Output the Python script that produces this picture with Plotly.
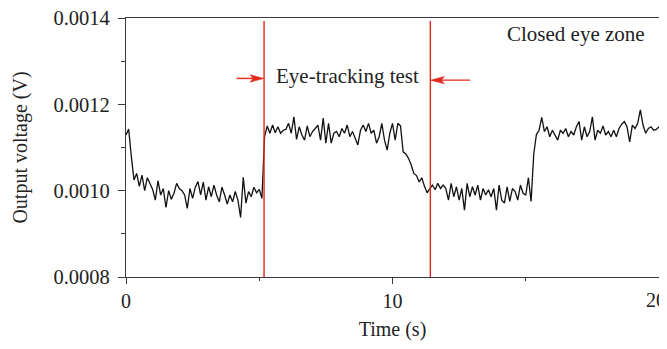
import numpy as np
import plotly.graph_objects as go

# ---- data ----
time_s = np.round(np.arange(0, 201) * 0.1, 1)  # sampling grid 0..20 s

voltage_V = [
    0.001129, 0.001143, 0.001079, 0.001025, 0.001040, 0.001010, 0.001036, 0.001000, 0.001030, 0.001015,
    0.001003, 0.000978, 0.001023, 0.000990, 0.001005, 0.000961, 0.001000, 0.000980, 0.000994, 0.001017,
    0.001005, 0.001000, 0.000990, 0.000959, 0.001005, 0.000982, 0.001008, 0.001021, 0.000990, 0.001020,
    0.000978, 0.001009, 0.000986, 0.001013, 0.000990, 0.000974, 0.001008, 0.000990, 0.000969, 0.000990,
    0.000974, 0.000998, 0.000978, 0.000938, 0.001031, 0.000971, 0.000998, 0.000986, 0.001008, 0.000995,
    0.001003, 0.000982, 0.001125, 0.001150, 0.001133, 0.001152, 0.001134, 0.001148, 0.001133, 0.001140,
    0.001142, 0.001156, 0.001133, 0.001171, 0.001119, 0.001148, 0.001129, 0.001117, 0.001150, 0.001125,
    0.001137, 0.001144, 0.001152, 0.001117, 0.001168, 0.001110, 0.001156, 0.001110, 0.001133, 0.001137,
    0.001125, 0.001144, 0.001133, 0.001152, 0.001125, 0.001137, 0.001121, 0.001106, 0.001140, 0.001152,
    0.001137, 0.001156, 0.001133, 0.001140, 0.001110, 0.001125, 0.001156, 0.001117, 0.001094, 0.001133,
    0.001156, 0.001117, 0.001156, 0.001150, 0.001090, 0.001085, 0.001075, 0.001060, 0.001040, 0.001035,
    0.001020, 0.001030, 0.001010, 0.000995, 0.001005, 0.001013, 0.001002, 0.001017, 0.001005, 0.001013,
    0.001005, 0.000978, 0.001017, 0.000986, 0.001009, 0.000978, 0.001005, 0.000955, 0.001017, 0.000986,
    0.001009, 0.000990, 0.001013, 0.000978, 0.001005, 0.000990, 0.001002, 0.000986, 0.001005, 0.000955,
    0.001013, 0.000978, 0.000971, 0.001009, 0.000975, 0.001005, 0.000998, 0.000978, 0.001013, 0.000994,
    0.000990, 0.001030, 0.000975, 0.001085, 0.001130, 0.001140, 0.001170, 0.001137, 0.001148, 0.001125,
    0.001140, 0.001129, 0.001117, 0.001140, 0.001133, 0.001144, 0.001125, 0.001137, 0.001129, 0.001148,
    0.001160, 0.001117, 0.001148, 0.001125, 0.001137, 0.001171, 0.001117, 0.001140, 0.001133, 0.001150,
    0.001129, 0.001137, 0.001125, 0.001140, 0.001125, 0.001144, 0.001154, 0.001160, 0.001148, 0.001113,
    0.001152, 0.001144, 0.001156, 0.001187, 0.001152, 0.001133, 0.001144, 0.001148, 0.001140, 0.001142,
    0.001148,
]

marker_times = [5.18, 11.42]          # red vertical lines (test start / end)
x_tickvals = [0, 10, 20]
x_ticktext = ["0", "10", "20"]
x_minor = [5, 15]
y_tickvals = [0.0008, 0.0010, 0.0012, 0.0014]
y_ticktext = ["0.0008", "0.0010", "0.0012", "0.0014"]
y_minor = [0.0009, 0.0011, 0.0013]

FONT = "Liberation Serif, Times New Roman, serif"
RED = "#e3281e"
AX = "#3a3a3a"

fig = go.Figure()
fig.add_trace(go.Scatter(x=time_s, y=voltage_V, mode="lines",
                         line=dict(color="#111111", width=1.3), showlegend=False,
                         hoverinfo="skip"))

shapes = []
for t in marker_times:
    shapes.append(dict(type="line", xref="x", yref="y", x0=t, x1=t,
                       y0=0.0008, y1=0.001393, line=dict(color=RED, width=1.4)))

# arrow shafts
shapes.append(dict(type="line", xref="x", yref="y", x0=4.15, x1=4.9, y0=0.00126, y1=0.00126,
                   line=dict(color=RED, width=1.4)))
shapes.append(dict(type="line", xref="x", yref="y", x0=11.7, x1=12.91, y0=0.001256, y1=0.001256,
                   line=dict(color=RED, width=1.4)))
# arrow heads (pixel-sized, anchored at tips)
shapes.append(dict(type="path", xref="x", yref="y", xsizemode="pixel", ysizemode="pixel",
                   xanchor=marker_times[0], yanchor=0.00126,
                   path="M0,0 L-14,3.7 L-11,0 L-14,-3.7 Z",
                   fillcolor=RED, line=dict(color=RED, width=0.5)))
shapes.append(dict(type="path", xref="x", yref="y", xsizemode="pixel", ysizemode="pixel",
                   xanchor=marker_times[1], yanchor=0.001256,
                   path="M0,0 L14,3.7 L11,0 L14,-3.7 Z",
                   fillcolor=RED, line=dict(color=RED, width=0.5)))

annotations = [
    dict(x=5.57, y=0.001265, xref="x", yref="y", text="Eye-tracking test", showarrow=False,
         xanchor="left", yanchor="middle", font=dict(family=FONT, size=21, color="#222222")),
    dict(x=19.54, y=0.001362, xref="x", yref="y", text="Closed eye zone", showarrow=False,
         xanchor="right", yanchor="middle", font=dict(family=FONT, size=21, color="#222222")),
    # last x tick label, right-aligned at the window edge so it stays readable
    dict(x=x_tickvals[-1], y=0.0008, xref="x", yref="y", text=x_ticktext[-1], showarrow=False,
         xanchor="right", yanchor="top", xshift=8, yshift=-11, borderpad=0,
         font=dict(family=FONT, size=20, color="#222222")),
]

# the page body adds an 8 px offset; figure sized so it ends at the window edge
fig.update_layout(
    width=659, height=333,
    margin=dict(l=118, r=8, t=10, b=64, autoexpand=False),
    paper_bgcolor="white", plot_bgcolor="white",
    font=dict(family=FONT, size=20, color="#222222"),
    shapes=shapes, annotations=annotations,
    showlegend=False,
)
fig.update_xaxes(
    range=[0, 20], tickvals=x_tickvals, ticktext=x_ticktext[:-1] + [""],
    ticks="outside", ticklen=6, tickwidth=1.3, tickcolor=AX,
    minor=dict(tickvals=x_minor, ticks="outside", ticklen=3, tickwidth=1.3, tickcolor=AX, showgrid=False),
    showline=True, linecolor=AX, linewidth=1.3, mirror=True,
    showgrid=False, zeroline=False, automargin=False, ticklabeloverflow="allow",
    title=dict(text="Time (s)", standoff=10, font=dict(family=FONT, size=20)),
    tickfont=dict(family=FONT, size=20),
)
fig.update_yaxes(
    range=[0.0008, 0.0014], tickvals=y_tickvals, ticktext=y_ticktext,
    ticks="outside", ticklen=7, tickwidth=1.3, tickcolor=AX,
    minor=dict(tickvals=y_minor, ticks="outside", ticklen=3.5, tickwidth=1.3, tickcolor=AX, showgrid=False),
    showline=True, linecolor=AX, linewidth=1.3, mirror=True,
    showgrid=False, zeroline=False, automargin=False, ticklabelstandoff=4,
    ticklabeloverflow="allow",
    title=dict(text="Output voltage (V)", standoff=20, font=dict(family=FONT, size=20)),
    tickfont=dict(family=FONT, size=20.5),
)

fig.write_html("out.html")
